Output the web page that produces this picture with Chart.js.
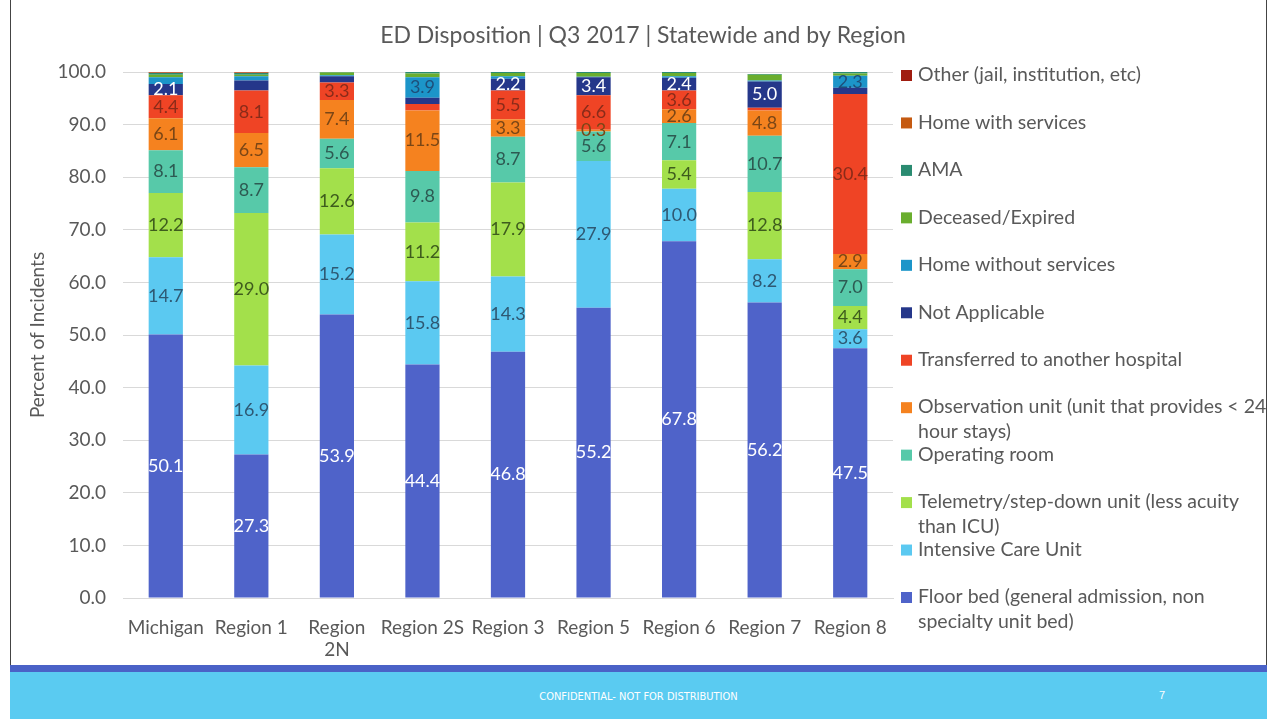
<!DOCTYPE html>
<html>
<head>
<meta charset="utf-8">
<script src="https://cdn.jsdelivr.net/npm/chart.js"></script>
<style>
  html, body { margin: 0; padding: 0; background: #fff; }
  #wrap { position: relative; width: 1277px; height: 719px; overflow: hidden; }
  #edgeL, #edgeR { position: absolute; top: 0; width: 1px; height: 719px; background: #444; }
  #edgeL { left: 10px; }
  #edgeR { left: 1266px; }
  #footer { position: absolute; left: 10px; top: 665px; width: 1257px; height: 54px; background: #5acbf1; }
  #footer .stripe { height: 7px; background: #4a62c7; }
  #footer .conf { position: absolute; left: 0; width: 1257px; top: 25px; text-align: center;
    font: 11px "Liberation Sans Narrow", "DejaVu Sans Condensed", sans-serif; color: #fff; }
  #footer .page { position: absolute; left: 1149px; top: 24px; font: 11px "Liberation Sans Narrow", sans-serif; color: #fff; }
</style>
</head>
<body>
<div id="wrap">
  <canvas id="edchart" width="1277" height="665"></canvas>
  <div id="edgeL"></div>
  <div id="edgeR"></div>
  <div id="footer"><div class="stripe"></div><div class="conf">CONFIDENTIAL- NOT FOR DISTRIBUTION</div><div class="page">7</div></div>
</div>
<script>
// Categories and tick labels
const categories = ["Michigan", "Region 1", ["Region", "2N"], "Region 2S", "Region 3", "Region 5", "Region 6", "Region 7", "Region 8"];
const yTicks = [0, 10, 20, 30, 40, 50, 60, 70, 80, 90, 100];
const chartTitle = "ED Disposition | Q3 2017 | Statewide and by Region";

// Series values (percent), bottom of stack first
const floorBed = [50.1, 27.3, 53.9, 44.4, 46.8, 55.2, 67.8, 56.2, 47.5];
const intensiveCare = [14.7, 16.9, 15.2, 15.8, 14.3, 27.9, 10.0, 8.2, 3.6];
const telemetry = [12.2, 29.0, 12.6, 11.2, 17.9, 0, 5.4, 12.8, 4.4];
const operatingRoom = [8.1, 8.7, 5.6, 9.8, 8.7, 5.6, 7.1, 10.7, 7.0];
const observation = [6.1, 6.5, 7.4, 11.5, 3.3, 0.3, 2.6, 4.8, 2.9];
const transferred = [4.4, 8.1, 3.3, 1.2, 5.5, 6.6, 3.6, 0.5, 30.4];
const notApplicable = [2.1, 1.9, 1.2, 1.2, 2.2, 3.4, 2.4, 5.0, 1.2];
const homeWithout = [1.3, 0.8, 0.2, 3.9, 0.5, 0.1, 0.3, 0.2, 2.3];
const deceased = [0.5, 0.3, 0.5, 0.7, 0.6, 0.7, 0.6, 1.1, 0.4];
const ama = [0.3, 0.3, 0.1, 0.3, 0.2, 0.2, 0.2, 0.1, 0.3];
const homeWith = [0.1, 0.1, 0, 0, 0, 0, 0, 0, 0];
const other = [0.1, 0.2, 0, 0, 0, 0, 0, 0, 0];

const seriesNames = [
  ["Floor bed (general admission, non", "specialty unit bed)"],
  ["Intensive Care Unit"],
  ["Telemetry/step-down unit (less acuity", "than ICU)"],
  ["Operating room"],
  ["Observation unit (unit that provides < 24", "hour stays)"],
  ["Transferred to another hospital"],
  ["Not Applicable"],
  ["Home without services"],
  ["Deceased/Expired"],
  ["AMA"],
  ["Home with services"],
  ["Other (jail, institution, etc)"],
];
const seriesData = [floorBed, intensiveCare, telemetry, operatingRoom, observation, transferred,
  notApplicable, homeWithout, deceased, ama, homeWith, other];
const seriesColors = ["#4f63c9", "#5bc9f1", "#a3e04b", "#57c9a9", "#f5821f", "#ef4425",
  "#25378a", "#1c95c9", "#6aae2e", "#2a8b71", "#c55a11", "#a01d10"];
const labelColors = ["#ffffff", "#2e5873", "#3e5c1d", "#2d5a52", "#7a4616", "#8a2b19",
  "#ffffff", "#1e4f7a", null, null, null, null];
const labelMin = [0.1, 0.1, 0.1, 0.1, 0.1, 2, 2, 2, Infinity, Infinity, Infinity, Infinity];

const FONT = "Lato, 'Open Sans', sans-serif";
const GREY = "#595959";

// Value labels inside the bars
const barLabels = {
  id: "barLabels",
  afterDatasetsDraw(chart) {
    const ctx = chart.ctx;
    ctx.save();
    ctx.font = "18px " + FONT;
    ctx.textAlign = "center";
    ctx.textBaseline = "middle";
    chart.data.datasets.forEach((ds, i) => {
      if (!labelColors[i]) return;
      chart.getDatasetMeta(i).data.forEach((bar, j) => {
        const v = ds.data[j];
        if (v < labelMin[i]) return;
        ctx.fillStyle = labelColors[i];
        ctx.fillText(v.toFixed(1), bar.x, (bar.y + bar.base) / 2);
      });
    });
    ctx.restore();
  },
};

// Title centred on the slide, legend on the right (top item = last series)
const sideLegend = {
  id: "sideLegend",
  afterDraw(chart) {
    const ctx = chart.ctx;
    ctx.save();
    ctx.fillStyle = GREY;
    ctx.textAlign = "center";
    ctx.textBaseline = "middle";
    ctx.font = "23px " + FONT;
    ctx.fillText(chartTitle, 643, 36);

    const n = chart.data.datasets.length;
    const top = 75, step = (597 - 75) / (n - 1);
    ctx.textAlign = "left";
    ctx.font = "19.5px " + FONT;
    for (let k = 0; k < n; k++) {
      const i = n - 1 - k;
      const y = top + k * step;
      ctx.fillStyle = seriesColors[i];
      ctx.fillRect(901, y - 5, 11, 11);
      ctx.fillStyle = GREY;
      seriesNames[i].forEach((line, li) => ctx.fillText(line, 918, y + li * 25));
    }
    ctx.restore();
  },
};

const ctx = document.getElementById("edchart").getContext("2d");
new Chart(ctx, {
  type: "bar",
  data: {
    labels: categories,
    datasets: seriesData.map((d, i) => ({
      label: seriesNames[i].join(" "),
      data: d,
      backgroundColor: seriesColors[i],
      borderWidth: 0,
      categoryPercentage: 1,
      barPercentage: 0.4,
    })),
  },
  options: {
    responsive: false,
    animation: false,
    layout: { padding: { left: 26, right: 384, top: 72, bottom: 0 } },
    plugins: {
      legend: { display: false },
      tooltip: { enabled: false },
      title: { display: false },
    },
    scales: {
      x: {
        stacked: true,
        grid: { display: false },
        border: { color: "#d9d9d9" },
        ticks: { color: GREY, font: { family: FONT, size: 19 }, padding: 10, maxRotation: 0, autoSkip: false },
        afterFit(scale) { scale.height = 67; },
      },
      y: {
        stacked: true,
        min: 0,
        max: 100,
        afterBuildTicks(scale) { scale.ticks = yTicks.map((v) => ({ value: v })); },
        grid: { color: "#d9d9d9", drawTicks: false },
        border: { display: false },
        ticks: { color: GREY, font: { family: FONT, size: 19 }, padding: 17, callback: (v) => v.toFixed(1) },
        title: { display: true, text: "Percent of Incidents", color: GREY, font: { family: FONT, size: 19 }, padding: 0 },
        afterFit(scale) { scale.width = 97; },
      },
    },
  },
  plugins: [barLabels, sideLegend],
});
</script>
</body>
</html>
